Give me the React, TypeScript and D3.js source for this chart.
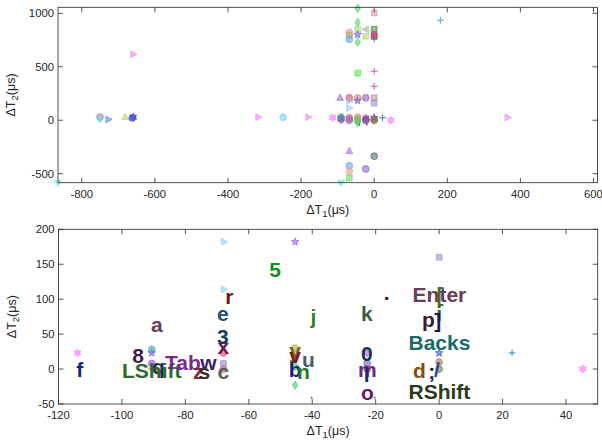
import React from 'react';
import * as d3 from 'd3';

// ---------- data ----------
// scatter markers: [dT1, dT2, shape, colour]
const markerX = [-865, -750, -750, -727, -681, -659, -662, -659, -317, -249, -180, -114, -90.6, -90.6, -90.6, -90.6,
  -68, -68, -68, -45.4, -45.4, -45.4, -22.7, -22.7, -22.7, 0, 0, 0, 23, 45.3, 365, 612,
  -93, -68, -45, -23, 0, 0, -67.8, -67.8, -45.4, 0, 0, -45,
  -45, -45, -45, 0, -68, -68, -68, -45, -45, -23, -23, 0, 0, 0, 0, 181,
  -68, 0, -68, -68, -23, -68, -91, -45.4, -40.2, -20.3];
const markerY = [-584, 29, 5, 8, 30, 28, 22, 617, 28, 28, 28, 23, 23, 0, 8, 28,
  23, 0, 8, 25, 3, -23, 23, 0, 8, 23, 0, 10, 23, 0, 25, 10,
  210, 210, 210, 210, 210, 160, 114, 182, 182, 458, 318, 440,
  1045, 915, 730, 1002, 822, 795, 757, 850, 800, 850, 785, 850, 800, 785, 760, 935,
  -288, -336, -425, -475, -456, -538, -584, 30, -41, -41];
const markerShape = ['v', 'o', 'v', '>', '^', 'h', 'o', '>', '>', 'o', '>', 'h', 'p', '+', 'o', 'o',
  'o', 'o', 'o', '<', 'o', 'd', 'h', 'o', 'o', 'p', 'o', 'o', '+', 'h', '>', '^',
  '^', 'o', 'o', 'o', 's', 's', '>', '>', 'p', '+', '+', 's',
  'd', 'd', 'd', 's', 'o', 'o', 'o', 's', 'p', '<', 's', 's', 's', 's', '+', '+',
  '^', 'o', 'o', 'o', 'o', 's', 'v', 'o', '.', '.'];
const markerColor = ['#5fe6e0', '#b070b0', '#5fe6e0', '#4a7af0', '#b5d544', '#1a2af0', '#3040d0', '#e07ef2', '#e07ef2', '#5fcff0', '#e07ef2', '#ff66ff', '#6a4ae0', '#e03030', '#8050d0', '#40a0a0',
  '#e03a7a', '#b05070', '#9080c0', '#9ec8f0', '#30c050', '#30cc60', '#e040e0', '#8a3030', '#7050c0', '#2a40d0', '#607040', '#a07050', '#2090b0', '#ff6aff', '#e07ef2', '#f0a040',
  '#9060d0', '#e0306a', '#c09040', '#8050c0', '#c08a8a', '#8a8ad0', '#8ac4f0', '#8ac4f0', '#9050e0', '#e050d0', '#e050d0', '#40e040',
  '#40d060', '#40d060', '#40d060', '#e08aa0', '#f08a9a', '#a0b060', '#50a0e0', '#90e070', '#7050d0', '#a0b0a0', '#b0d060', '#408040', '#c04080', '#c03050', '#2080c0', '#40b0d0',
  '#a060e0', '#406060', '#60a0e0', '#f09090', '#9050d0', '#50e050', '#60e0e0', '#c0a040', '#303030', '#303030'];

// key labels (bottom panel): text, dT1, dT2, colour
const keyText = ['f', '8', 'a', 'q', 'LShift', 'Tab', 'w', 'z', 's', 'c', 'x', '3', 'e', 'r', '5', 'j', 'k', '.',
  'i', 'Enter', '[', 'p', ']', 'Backs', 'd', ';', '/', 'RShift', '0', 'm', 'l', 'o', 'y', 'v', 'u', 'b', 'n'];
const keyX = [-113.3, -94.9, -89, -88.5, -90.6, -80.8, -72.7, -75.9, -74, -68, -68, -68.2, -68.2, -66.1, -51.7, -39.6, -22.8, -16.5,
  0, 0.1, 0.3, -3.4, -0.4, 0.1, -6.2, -2.3, -0.7, 0.1, -22.8, -22.6, -22.8, -22.6, -45.4, -45.4, -41.2, -45.4, -42.8];
const keyY = [0, 20, 64, 3, -2, 10, 10, -4, -4, -4, 32, 47, 79, 104, 142, 75, 80, 110,
  80, 106, 107, 71, 70, 38, -2, -4, -1, -32, 22, -1, -8, -33, 27, 20, 13, -1, -4];
const keyColor = ['#142580', '#3c1d4a', '#6e3a5c', '#1e2c5c', '#2d6a2d', '#7a2a88', '#3d1d6a', '#7a2a3a', '#3a2a2a', '#5a5a5a', '#6a1a4a', '#1a3a5a', '#1f4f6f', '#6a1a1a', '#1a8a1a', '#3a7a2a', '#3a5a3a', '#3a1a1a',
  '#2a6a2a', '#6a3a5a', '#4a6a2a', '#3a1a2a', '#1a1a5a', '#1a6a6a', '#8a4a0a', '#1a1a3a', '#2a4a8a', '#2a3a1a', '#0a3a4a', '#6a2a7a', '#1a2a7a', '#6a1a6a', '#6a6a1a', '#7a1a1a', '#4a5a6a', '#1a1a8a', '#1a7a2a'];

const topXTicks = [-800, -600, -400, -200, 0, 200, 400, 600];
const topYTicks = [-500, 0, 500, 1000];
const botXTicks = [-120, -100, -80, -60, -40, -20, 0, 20, 40];
const botYTicks = [-50, 0, 50, 100, 150, 200];

// ---------- helpers ----------
function starPath(n: number, ro: number, ri: number) {
  const pts: string[] = [];
  for (let i = 0; i < 2 * n; i++) {
    const a = -Math.PI / 2 + (i * Math.PI) / n;
    const r = i % 2 === 0 ? ro : ri;
    pts.push(`${(r * Math.cos(a)).toFixed(2)},${(r * Math.sin(a)).toFixed(2)}`);
  }
  return 'M' + pts.join('L') + 'Z';
}
function markerPath(shape: string, r: number) {
  switch (shape) {
    case 'o': return d3.symbol(d3.symbolCircle, Math.PI * r * r)() as string;
    case '.': return d3.symbol(d3.symbolCircle, Math.PI * 0.6 * 0.6)() as string;
    case 's': { const h = r * 0.85; return `M${-h},${-h}L${h},${-h}L${h},${h}L${-h},${h}Z`; }
    case 'd': return `M0,${-r * 1.25}L${r * 0.8},0L0,${r * 1.25}L${-r * 0.8},0Z`;
    case '^': return `M0,${-r * 1.1}L${r},${r * 0.75}L${-r},${r * 0.75}Z`;
    case 'v': return `M0,${r * 1.1}L${r},${-r * 0.75}L${-r},${-r * 0.75}Z`;
    case '>': return `M${r * 1.1},0L${-r * 0.75},${r}L${-r * 0.75},${-r}Z`;
    case '<': return `M${-r * 1.1},0L${r * 0.75},${r}L${r * 0.75},${-r}Z`;
    case '+': return `M${-r},0L${r},0M0,${-r}L0,${r}`;
    case 'p': return starPath(5, r * 1.2, r * 0.5);
    case 'h': return starPath(6, r * 1.15, r * 0.62);
    default: return '';
  }
}

const AX = '#262626';
const FONT = "'Liberation Sans', Arial, Helvetica, sans-serif";

type PanelProps = {
  x0: number; x1: number; y0: number; y1: number;
  xd: [number, number]; yd: [number, number];
  xt: number[]; yt: number[];
  labels: boolean;
};

function Panel({ x0, x1, y0, y1, xd, yd, xt, yt, labels }: PanelProps) {
  const xs = d3.scaleLinear().domain(xd).range([x0, x1]);
  const ys = d3.scaleLinear().domain(yd).range([y1, y0]);
  const tl = 5;
  const idx = markerX.map((_, i) => i).filter(i =>
    markerX[i] >= xd[0] && markerX[i] <= xd[1] && markerY[i] >= yd[0] && markerY[i] <= yd[1]);
  const cx = (x0 + x1) / 2;
  const cy = (y0 + y1) / 2;
  return (
    <g>
      {idx.map(i => {
        const sh = markerShape[i];
        const c = markerColor[i];
        const plus = sh === '+';
        return (
          <path key={'m' + i} d={markerPath(sh, 3.4)}
            transform={`translate(${xs(markerX[i])},${ys(markerY[i])})`}
            fill={plus ? 'none' : c} fillOpacity={0.55}
            stroke={c} strokeOpacity={plus ? 1 : 0.75} strokeWidth={plus ? 1 : 0.8} />
        );
      })}
      {labels && keyText.map((t, i) => (
        <text key={'k' + i} x={xs(keyX[i])} y={ys(keyY[i])} textAnchor="middle" dominantBaseline="central"
          fontFamily={FONT} fontWeight="bold" fontSize={21} fill={keyColor[i]}>{t}</text>
      ))}
      <rect x={x0} y={y0} width={x1 - x0} height={y1 - y0} fill="none" stroke={AX} strokeWidth={0.8} />
      {xt.map(v => (
        <g key={'xt' + v}>
          <line x1={xs(v)} x2={xs(v)} y1={y1} y2={y1 - tl} stroke={AX} strokeWidth={0.8} />
          <line x1={xs(v)} x2={xs(v)} y1={y0} y2={y0 + tl} stroke={AX} strokeWidth={0.8} />
          <text x={xs(v)} y={y1 + 15} textAnchor="middle" fontFamily={FONT} fontSize={11.3} fill={AX}>{v}</text>
        </g>
      ))}
      {yt.map(v => (
        <g key={'yt' + v}>
          <line x1={x0} x2={x0 + tl} y1={ys(v)} y2={ys(v)} stroke={AX} strokeWidth={0.8} />
          <line x1={x1} x2={x1 - tl} y1={ys(v)} y2={ys(v)} stroke={AX} strokeWidth={0.8} />
          <text x={x0 - 4} y={ys(v)} textAnchor="end" dominantBaseline="central" fontFamily={FONT} fontSize={11.3} fill={AX}>{v}</text>
        </g>
      ))}
      <text x={cx} y={y1 + 31} textAnchor="middle" fontFamily={FONT} fontSize={12.5} fill={AX}>
        ΔT<tspan fontSize={9.5} dy={3}>1</tspan><tspan dy={-3}>(μs)</tspan>
      </text>
      <text transform={`translate(${x0 - 43},${cy}) rotate(-90)`} textAnchor="middle" fontFamily={FONT} fontSize={12.5} fill={AX}>
        ΔT<tspan fontSize={9.5} dy={3}>2</tspan><tspan dy={-3}>(μs)</tspan>
      </text>
    </g>
  );
}

export default function App() {
  return (
    <svg width={602} height={441} style={{ position: 'absolute', left: 0, top: 0, background: '#fff' }}>
      <rect width={602} height={441} fill="#fff" />
      <Panel x0={58} x1={597.5} y0={7.3} y1={182.7} xd={[-865, 611]} yd={[-584, 1056]}
        xt={topXTicks} yt={topYTicks} labels={false} />
      <Panel x0={58.5} x1={597.7} y0={229.3} y1={404} xd={[-120, 50]} yd={[-50, 200]}
        xt={botXTicks} yt={botYTicks} labels={true} />
    </svg>
  );
}
